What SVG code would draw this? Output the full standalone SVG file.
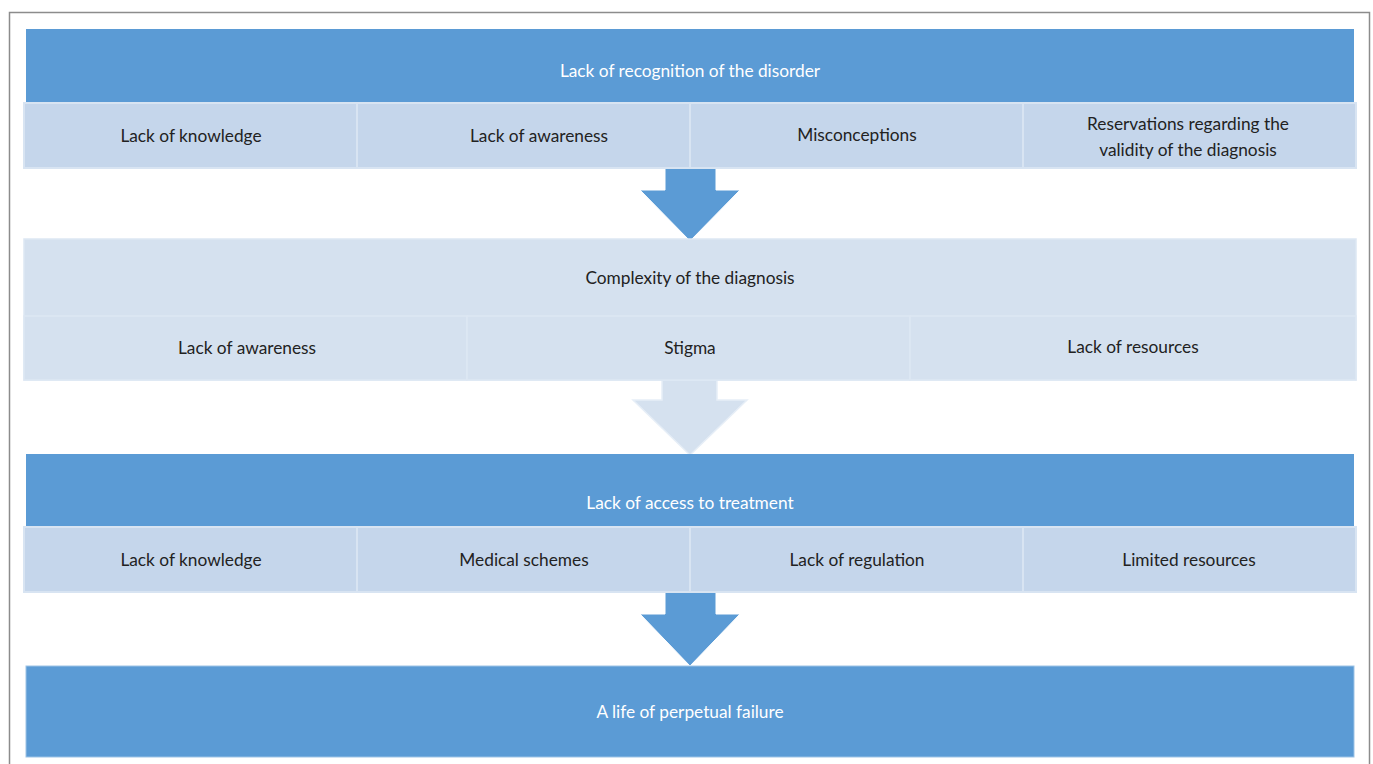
<svg xmlns="http://www.w3.org/2000/svg" width="1373" height="764" viewBox="0 0 1373 764">
<style>
text{font-family:Lato,"Liberation Sans",sans-serif;font-size:17.3px;text-anchor:middle;dominant-baseline:central}
.hd{fill:#5B9BD5}
.ht{fill:#ffffff}
.sb{fill:#C5D6EB;stroke:#D8E4F2;stroke-width:2}
.lb{fill:#D5E1EF;stroke:#DDE7F3;stroke-width:1.5}
.st{fill:#222222}
.ad{fill:#5B9BD5;stroke:#ffffff;stroke-width:1}
.al{fill:#D5E1EF;stroke:#E6EEF7;stroke-width:1.5}
</style>
<rect x="0" y="0" width="1373" height="764" fill="#ffffff"/>
<rect x="9.5" y="12.5" width="1360" height="760" fill="none" stroke="#8C8C8C" stroke-width="1.5"/>
<g id="connectors">
<polygon class="ad" points="665,167 716,167 716,190 740,190 690,241 640,190 665,190"/>
<polygon class="al" points="662,380 717,380 717,400 747,400 690,455 633,400 662,400"/>
<polygon class="ad" points="665,592 716,592 716,614 740,614 690,666 640,614 665,614"/>
</g>
<g id="row1">
<rect class="hd" x="26" y="29" width="1328" height="74"/>
<text class="ht" x="690" y="70">Lack of recognition of the disorder</text>
</g>
<g id="r1a"><rect class="sb" x="24" y="103" width="333" height="65"/><text class="st" x="191" y="135">Lack of knowledge</text></g>
<g id="r1b"><rect class="sb" x="357" y="103" width="333" height="65"/><text class="st" x="539" y="135">Lack of awareness</text></g>
<g id="r1c"><rect class="sb" x="690" y="103" width="333" height="65"/><text class="st" x="857" y="134">Misconceptions</text></g>
<g id="r1d"><rect class="sb" x="1023" y="103" width="333" height="65"/><text class="st" x="1188" y="123">Reservations regarding the</text><text class="st" x="1188" y="149">validity of the diagnosis</text></g>
<g id="row2">
<rect class="lb" x="24" y="239" width="1332" height="141"/>
<text class="st" x="690" y="277">Complexity of the diagnosis</text>
</g>
<g id="r2a"><rect class="lb" x="24" y="316" width="443" height="64"/><text class="st" x="247" y="347">Lack of awareness</text></g>
<g id="r2b"><rect class="lb" x="467" y="316" width="443" height="64"/><text class="st" x="690" y="347">Stigma</text></g>
<g id="r2c"><rect class="lb" x="910" y="316" width="446" height="64"/><text class="st" x="1133" y="346">Lack of resources</text></g>
<g id="row3">
<rect class="hd" x="26" y="454" width="1328" height="73"/>
<text class="ht" x="690" y="502">Lack of access to treatment</text>
</g>
<g id="r3a"><rect class="sb" x="24" y="527" width="333" height="65"/><text class="st" x="191" y="559">Lack of knowledge</text></g>
<g id="r3b"><rect class="sb" x="357" y="527" width="333" height="65"/><text class="st" x="524" y="559">Medical schemes</text></g>
<g id="r3c"><rect class="sb" x="690" y="527" width="333" height="65"/><text class="st" x="857" y="559">Lack of regulation</text></g>
<g id="r3d"><rect class="sb" x="1023" y="527" width="333" height="65"/><text class="st" x="1189" y="559">Limited resources</text></g>
<g id="row4">
<rect class="hd" x="26" y="666" width="1328" height="91" stroke="#9DC3E6" stroke-width="1"/>
<text class="ht" x="690" y="711">A life of perpetual failure</text>
</g>
</svg>
